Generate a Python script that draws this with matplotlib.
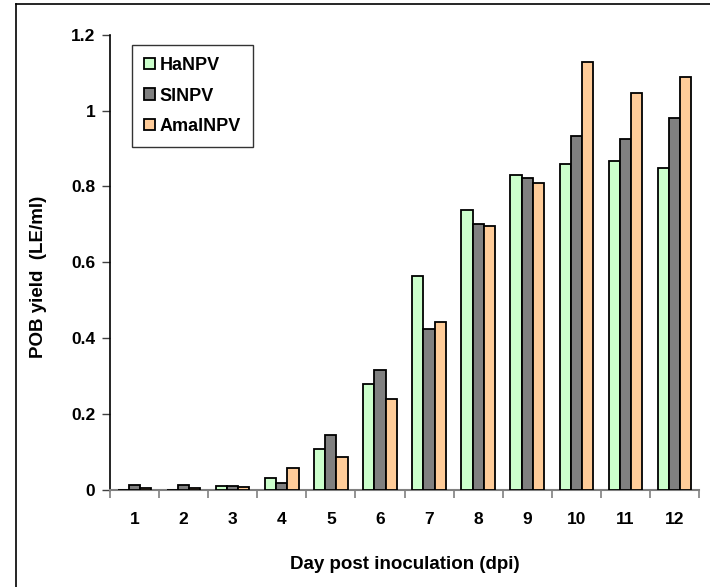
import matplotlib
matplotlib.use("Agg")
import matplotlib.pyplot as plt
import numpy as np
from matplotlib.lines import Line2D

days = ["1", "2", "3", "4", "5", "6", "7", "8", "9", "10", "11", "12"]
series_names = ["HaNPV", "SlNPV", "AmalNPV"]
ha_npv = [0.0, 0.0, 0.011, 0.032, 0.109, 0.280, 0.565, 0.739, 0.829, 0.860, 0.868, 0.848]
sl_npv = [0.013, 0.013, 0.011, 0.019, 0.145, 0.316, 0.424, 0.701, 0.821, 0.934, 0.926, 0.981]
amal_npv = [0.004, 0.004, 0.008, 0.059, 0.086, 0.239, 0.443, 0.697, 0.809, 1.129, 1.047, 1.088]
colors = ["#CCFFCC", "#808080", "#FFCC99"]

plt.rcParams["font.family"] = ["Liberation Sans", "DejaVu Sans"]
plt.rcParams["font.weight"] = "bold"

fig = plt.figure(figsize=(7.1, 5.87), dpi=100)
ax = fig.add_axes([110 / 710, 1 - 490 / 587, 589 / 710, (490 - 34.7) / 587])

x = np.arange(len(days))
width = 0.227
for i, (vals, name, col) in enumerate(zip([ha_npv, sl_npv, amal_npv], series_names, colors)):
    ax.bar(x + (i - 1) * width, vals, width, color=col, edgecolor="black",
           linewidth=1.3, label=name, zorder=3)

ax.set_xlim(-0.5, len(days) - 0.5)
ax.set_ylim(0, 1.2)
ax.set_yticks([0, 0.2, 0.4, 0.6, 0.8, 1.0, 1.2])
ax.set_yticklabels(["0", "0.2", "0.4", "0.6", "0.8", "1", "1.2"])
ax.set_xticks(x)
ax.set_xticklabels(days)
ax.set_xticks(np.arange(-0.5, len(days)), minor=True)
ax.tick_params(axis="x", which="major", length=0, pad=16, labelsize=12.5)
ax.tick_params(axis="x", which="minor", length=6, color="#808080", width=1.2, direction="out")
ax.tick_params(axis="y", length=5.5, color="#404040", width=1, labelsize=12.5, pad=5)
for lab in ax.get_xticklabels() + ax.get_yticklabels():
    lab.set_fontweight("bold")

for s in ["top", "right"]:
    ax.spines[s].set_visible(False)
ax.spines["left"].set_color("black")
ax.spines["left"].set_linewidth(1.2)
ax.spines["bottom"].set_color("#808080")
ax.spines["bottom"].set_linewidth(1.5)

ax.set_xlabel("Day post inoculation (dpi)", fontsize=13.5, fontweight="bold", labelpad=21)
ax.set_ylabel("POB yield  (LE/ml)", fontsize=13.5, fontweight="bold")
ax.yaxis.set_label_coords(-0.107, 0.469)

leg = ax.legend(loc="upper left", bbox_to_anchor=(22 / 589, 1 - 10 / 455.3),
                frameon=True, fancybox=False, edgecolor="black", fontsize=13,
                handlelength=0.6, handleheight=0.6, handletextpad=0.25,
                labelspacing=0.75, borderpad=0.68, borderaxespad=0)
leg.get_frame().set_linewidth(1.0)
for t in leg.get_texts():
    t.set_fontweight("bold")

# figure frame along the left and top edges
fig.add_artist(Line2D([16 / 710, 16 / 710], [0, 1 - 4 / 587], transform=fig.transFigure,
                      color="black", linewidth=1.2))
fig.add_artist(Line2D([16 / 710, 1], [1 - 4 / 587, 1 - 4 / 587], transform=fig.transFigure,
                      color="black", linewidth=1.2))

fig.savefig("out.png", dpi=100)
